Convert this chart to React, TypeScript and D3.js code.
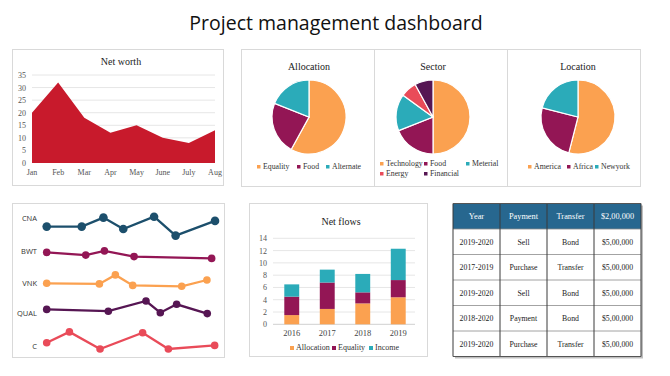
import React from "react";
import * as d3 from "d3";

// ---------- DATA ----------
const months = ["Jan", "Feb", "Mar", "Apr", "May", "June", "July", "Aug"];
const netWorth = [20, 32, 18, 12, 15, 10, 8, 13];
const netWorthTicks = [0, 5, 10, 15, 20, 25, 30, 35];

const allocLabels = ["Equality", "Food", "Alternate"];
const allocValues = [58, 23, 19];
const sectorLabels = ["Technology", "Food", "Meterial", "Energy", "Financial"];
const sectorValues = [50, 19, 16, 7, 8];
const locationLabels = ["America", "Africa", "Newyork"];
const locationValues = [54, 25, 21];

const lineNames = ["CNA", "BWT", "VNK", "QUAL", "C"];
const lineLabelLevels = [45.7, 34.7, 24, 14, 3];
const cnaX = [0, 20.8, 33.7, 45.5, 63.8, 76.6, 100];
const cnaY = [42.8, 42.8, 45.8, 42, 46.1, 39.8, 44.7];
const bwtX = [0, 23.2, 34.3, 51.9, 98];
const bwtY = [34.2, 33.3, 34.7, 32.8, 32.2];
const vnkX = [0, 31.3, 40.8, 51.1, 80.2, 95.2];
const vnkY = [23.9, 23.7, 26.7, 23.2, 22.9, 25];
const qualX = [0, 36.6, 59, 67.5, 77.2, 95.4];
const qualY = [15.2, 14.6, 18, 14.1, 16.9, 13.8];
const cX = [0, 13.5, 31.7, 57, 72.3, 99.8];
const cY = [4.1, 7.7, 2, 7.4, 2, 3.2];

const flowYears = ["2016", "2017", "2018", "2019"];
const flowSeries = ["Allocation", "Equality", "Income"];
const flowAllocation = [1.5, 2.5, 3.4, 4.4];
const flowEquality = [3, 4.3, 1.8, 2.8];
const flowIncome = [2, 2.1, 3, 5.1];
const flowTicks = [0, 2, 4, 6, 8, 10, 12, 14];

const tableHeader = ["Year", "Payment", "Transfer", "$2,00,000"];
const tableYears = ["2019-2020", "2017-2019", "2019-2020", "2018-2020", "2019-2020"];
const tablePayments = ["Sell", "Purchase", "Sell", "Payment", "Purchase"];
const tableTransfers = ["Bond", "Transfer", "Bond", "Bond", "Transfer"];
const tableAmounts = ["$5,00,000", "$5,00,000", "$5,00,000", "$5,00,000", "$5,00,000"];

// ---------- STYLE ----------
const ORANGE = "#FBA150";
const MAROON = "#931655";
const TEAL = "#2BABB9";
const RED = "#E94B59";
const PURPLE = "#561653";
const CRIMSON = "#C81A2C";
const NAVY = "#1C4F6C";
const SERIF = "'Liberation Serif', 'DejaVu Serif', serif";
const SANS = "'Open Sans', 'Noto Sans', sans-serif";
const BORDER = "#D9D9D9";

function NetWorth() {
  const x = d3.scalePoint<string>().domain(months).range([32, 215]);
  const y = d3.scaleLinear().domain([0, 35]).range([163, 75]);
  const area = d3
    .area<number>()
    .x((_, i) => x(months[i])!)
    .y0(y(0))
    .y1((d) => y(d));
  return (
    <g>
      <rect x={12.5} y={49.5} width={211} height={136} fill="#fff" stroke={BORDER} />
      <text x={121} y={65} textAnchor="middle" fontFamily={SERIF} fontSize={10} fill="#222">
        Net worth
      </text>
      {netWorthTicks.map((t) => (
        <g key={t}>
          {t > 0 && <line x1={32} x2={215} y1={y(t)} y2={y(t)} stroke="#E6E6E6" />}
          <text x={26} y={y(t) + 3} textAnchor="end" fontFamily={SERIF} fontSize={8} fill="#555">
            {t}
          </text>
        </g>
      ))}
      <path d={area(netWorth)!} fill={CRIMSON} />
      {months.map((m) => (
        <text key={m} x={x(m)} y={175} textAnchor="middle" fontFamily={SERIF} fontSize={8} fill="#555">
          {m}
        </text>
      ))}
    </g>
  );
}

type LegendItem = { label: string; color: string; x: number; y: number };

function Pie({
  cx,
  title,
  values,
  colors,
  legend,
}: {
  cx: number;
  title: string;
  values: number[];
  colors: string[];
  legend: LegendItem[];
}) {
  const cy = 117;
  const r = 37;
  const arcs = d3.pie<number>().sort(null)(values);
  const arc = d3.arc<d3.PieArcDatum<number>>().innerRadius(0).outerRadius(r);
  return (
    <g>
      <text x={cx} y={70} textAnchor="middle" fontFamily={SERIF} fontSize={10} fill="#222">
        {title}
      </text>
      <g transform={`translate(${cx},${cy})`}>
        {arcs.map((a, i) => (
          <path key={i} d={arc(a)!} fill={colors[i]} stroke="#fff" strokeWidth={1.2} />
        ))}
      </g>
      {legend.map((l) => (
        <g key={l.label}>
          <rect x={l.x} y={l.y - 4} width={3.5} height={3.5} fill={l.color} />
          <text x={l.x + 6} y={l.y} fontFamily={SERIF} fontSize={7.8} fill="#333">
            {l.label}
          </text>
        </g>
      ))}
    </g>
  );
}

function Pies() {
  return (
    <g>
      <rect x={241.5} y={49.5} width={399} height={137} fill="#fff" stroke={BORDER} />
      <line x1={374.5} x2={374.5} y1={49.5} y2={186.5} stroke={BORDER} />
      <line x1={507.5} x2={507.5} y1={49.5} y2={186.5} stroke={BORDER} />
      <Pie
        cx={309}
        title="Allocation"
        values={allocValues}
        colors={[ORANGE, MAROON, TEAL]}
        legend={[
          { label: allocLabels[0], color: ORANGE, x: 257, y: 169 },
          { label: allocLabels[1], color: MAROON, x: 297, y: 169 },
          { label: allocLabels[2], color: TEAL, x: 326, y: 169 },
        ]}
      />
      <Pie
        cx={433}
        title="Sector"
        values={sectorValues}
        colors={[ORANGE, MAROON, TEAL, RED, PURPLE]}
        legend={[
          { label: sectorLabels[0], color: ORANGE, x: 380, y: 166 },
          { label: sectorLabels[1], color: MAROON, x: 424, y: 166 },
          { label: sectorLabels[2], color: TEAL, x: 466, y: 166 },
          { label: sectorLabels[3], color: RED, x: 380, y: 176 },
          { label: sectorLabels[4], color: PURPLE, x: 424, y: 176 },
        ]}
      />
      <Pie
        cx={578}
        title="Location"
        values={locationValues}
        colors={[ORANGE, MAROON, TEAL]}
        legend={[
          { label: locationLabels[0], color: ORANGE, x: 528, y: 169 },
          { label: locationLabels[1], color: MAROON, x: 567, y: 169 },
          { label: locationLabels[2], color: TEAL, x: 595, y: 169 },
        ]}
      />
    </g>
  );
}

function Lines() {
  const x = d3.scaleLinear().domain([0, 100]).range([46.7, 215]);
  const y = d3.scaleLinear().domain([0, 50]).range([355, 205]);
  const series = [
    { xs: cnaX, ys: cnaY, color: NAVY, r: 4.3 },
    { xs: bwtX, ys: bwtY, color: MAROON, r: 3.8 },
    { xs: vnkX, ys: vnkY, color: ORANGE, r: 3.8 },
    { xs: qualX, ys: qualY, color: PURPLE, r: 3.8 },
    { xs: cX, ys: cY, color: RED, r: 3.8 },
  ];
  const line = d3
    .line<[number, number]>()
    .x((d) => x(d[0]))
    .y((d) => y(d[1]));
  return (
    <g>
      <rect x={12.5} y={203.5} width={212} height={154} fill="#fff" stroke={BORDER} />
      {lineNames.map((n, i) => (
        <text key={n} x={37} y={y(lineLabelLevels[i]) + 3} textAnchor="end" fontFamily={SANS} fontSize={7.5} fill="#333">
          {n}
        </text>
      ))}
      {series.map((s, i) => {
        const pts = s.xs.map((v, j) => [v, s.ys[j]] as [number, number]);
        return (
          <g key={i}>
            <path d={line(pts)!} fill="none" stroke={s.color} strokeWidth={2.3} />
            {pts.map((p, j) => (
              <circle key={j} cx={x(p[0])} cy={y(p[1])} r={s.r} fill={s.color} />
            ))}
          </g>
        );
      })}
    </g>
  );
}

function NetFlows() {
  const x = d3.scaleBand<string>().domain(flowYears).range([274, 416]).paddingInner(0.58).paddingOuter(0.29);
  const y = d3.scaleLinear().domain([0, 14]).range([324.3, 238.3]);
  const rows = flowYears.map((yr, i) => ({
    year: yr,
    Allocation: flowAllocation[i],
    Equality: flowEquality[i],
    Income: flowIncome[i],
  }));
  const stack = d3.stack<any>().keys(flowSeries)(rows);
  const colors = [ORANGE, MAROON, TEAL];
  return (
    <g>
      <rect x={249.5} y={203.5} width={178} height={153} fill="#fff" stroke={BORDER} />
      <text x={341} y={225} textAnchor="middle" fontFamily={SERIF} fontSize={10} fill="#222">
        Net flows
      </text>
      {flowTicks.map((t) => (
        <g key={t}>
          <line x1={273} x2={415} y1={y(t)} y2={y(t)} stroke={t === 0 ? "#D0D0D0" : "#E6E6E6"} />
          <text x={267} y={y(t) + 3} textAnchor="end" fontFamily={SERIF} fontSize={8} fill="#555">
            {t}
          </text>
        </g>
      ))}
      {stack.map((layer, si) =>
        layer.map((d, i) => (
          <rect
            key={si + "-" + i}
            x={x(flowYears[i])}
            width={x.bandwidth()}
            y={y(d[1])}
            height={y(d[0]) - y(d[1])}
            fill={colors[si]}
          />
        ))
      )}
      {flowYears.map((yr) => (
        <text key={yr} x={x(yr)! + x.bandwidth() / 2} y={336} textAnchor="middle" fontFamily={SERIF} fontSize={8.5} fill="#444">
          {yr}
        </text>
      ))}
      {flowSeries.map((s, i) => {
        const lx = [290, 332, 369][i];
        return (
          <g key={s}>
            <rect x={lx} y={346} width={4} height={4} fill={colors[i]} />
            <text x={lx + 6} y={350} fontFamily={SERIF} fontSize={8} fill="#333">
              {s}
            </text>
          </g>
        );
      })}
    </g>
  );
}

function Table() {
  const left = 453;
  const right = 641;
  const top = 203.5;
  const rowH = 25.5;
  const colX = d3.scaleBand<number>().domain([0, 1, 2, 3]).range([left, right]);
  const rows = tableYears.map((yv, i) => [yv, tablePayments[i], tableTransfers[i], tableAmounts[i]]);
  const bottom = top + rowH * 6;
  return (
    <g>
      <rect x={left + 2} y={top + 2} width={right - left} height={bottom - top} fill="#BFBFBF" />
      <rect x={left} y={top} width={right - left} height={bottom - top} fill="#fff" />
      <rect x={left} y={top} width={right - left} height={rowH} fill="#27678F" />
      {tableHeader.map((h, c) => (
        <text key={h} x={colX(c)! + colX.bandwidth() / 2} y={top + rowH / 2 + 3} textAnchor="middle" fontFamily={SERIF} fontSize={8.3} fill="#fff">
          {h}
        </text>
      ))}
      {rows.map((r, ri) => (
        <g key={ri}>
          <line x1={left} x2={right} y1={top + rowH * (ri + 1)} y2={top + rowH * (ri + 1)} stroke="#8C8C8C" strokeWidth={0.8} />
          {r.map((v, c) => (
            <text key={c} x={colX(c)! + colX.bandwidth() / 2} y={top + rowH * (ri + 1) + rowH / 2 + 3} textAnchor="middle" fontFamily={SERIF} fontSize={7.8} fill="#222">
              {v}
            </text>
          ))}
        </g>
      ))}
      {[0, 1, 2, 3, 4].map((c) => {
        const xx = c < 4 ? colX(c)! : right;
        return <line key={c} x1={xx} x2={xx} y1={top} y2={bottom} stroke="#3A3A3A" strokeWidth={1} />;
      })}
      <line x1={left} x2={right} y1={bottom} y2={bottom} stroke="#555" />
      <line x1={left} x2={right} y1={top} y2={top} stroke="#555" />
    </g>
  );
}

export default function App() {
  return (
    <svg width={670} height={376} style={{ position: "absolute", left: 0, top: 0, background: "#fff" }}>
      <rect width={670} height={376} fill="#fff" />
      <text x={336} y={30} textAnchor="middle" fontFamily="'Open Sans', Lato, sans-serif" fontSize={19.5} fill="#111">
        Project management dashboard
      </text>
      <NetWorth />
      <Pies />
      <Lines />
      <NetFlows />
      <Table />
    </svg>
  );
}
